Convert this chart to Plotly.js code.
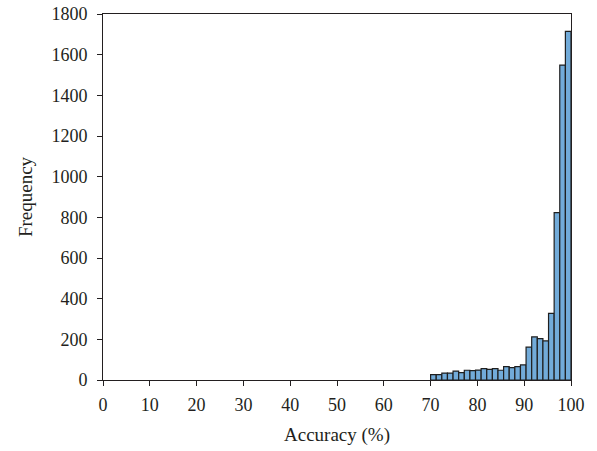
<!DOCTYPE html>
<html>
<head>
<meta charset="utf-8">
<script src="https://cdn.plot.ly/plotly-3.0.1.min.js"></script>
<style>html,body{margin:0;padding:0;background:#fff;}#chart{width:597px;height:451px;}</style>
</head>
<body>
<div id="chart"></div>
<script>
// Histogram bins: 25 bins of width 1.2 from 70 to 100
const binStart = 70;
const binWidth = 1.2;
const frequency = [26, 26, 34, 34, 44, 36, 48, 46, 49, 56, 52, 56, 48, 66, 61, 66, 74, 162, 212, 203, 192, 328, 823, 1549, 1715];
const xTicks = [0, 10, 20, 30, 40, 50, 60, 70, 80, 90, 100];
const yTicks = [0, 200, 400, 600, 800, 1000, 1200, 1400, 1600, 1800];

const centers = frequency.map((_, i) => binStart + binWidth * (i + 0.5));

const family = '"Liberation Serif", "DejaVu Serif", serif';
const tickFont = {family: family, size: 18, color: '#231f20'};
const titleFont = {family: family, size: 19, color: '#231f20'};

const trace = {
  type: 'bar',
  x: centers,
  y: frequency,
  width: binWidth,
  marker: {color: '#72abd9', line: {color: '#1f1f1f', width: 1.2}},
  hoverinfo: 'x+y'
};

const layout = {
  width: 597, height: 451,
  margin: {l: 103, r: 26, t: 14, b: 71},
  paper_bgcolor: '#fff', plot_bgcolor: '#fff',
  font: tickFont,
  showlegend: false,
  bargap: 0,
  xaxis: {
    range: [0, 100], tickvals: xTicks, ticktext: xTicks.map(String),
    showgrid: false, zeroline: false,
    showline: true, linecolor: '#231f20', linewidth: 1, mirror: true,
    ticks: 'outside', ticklen: 5, tickcolor: '#231f20', tickwidth: 1,
    ticklabelstandoff: 3,
    tickfont: tickFont,
    title: {text: 'Accuracy (%)', font: titleFont, standoff: 14}
  },
  yaxis: {
    range: [0, 1800], tickvals: yTicks, ticktext: yTicks.map(String),
    showgrid: false, zeroline: false,
    showline: true, linecolor: '#231f20', linewidth: 1, mirror: true,
    ticks: 'outside', ticklen: 5, tickcolor: '#231f20', tickwidth: 1,
    ticklabelstandoff: 6,
    tickfont: tickFont,
    title: {text: 'Frequency', font: titleFont, standoff: 13}
  }
};

Plotly.newPlot('chart', [trace], layout, {displayModeBar: false, staticPlot: true});
</script>
</body>
</html>
